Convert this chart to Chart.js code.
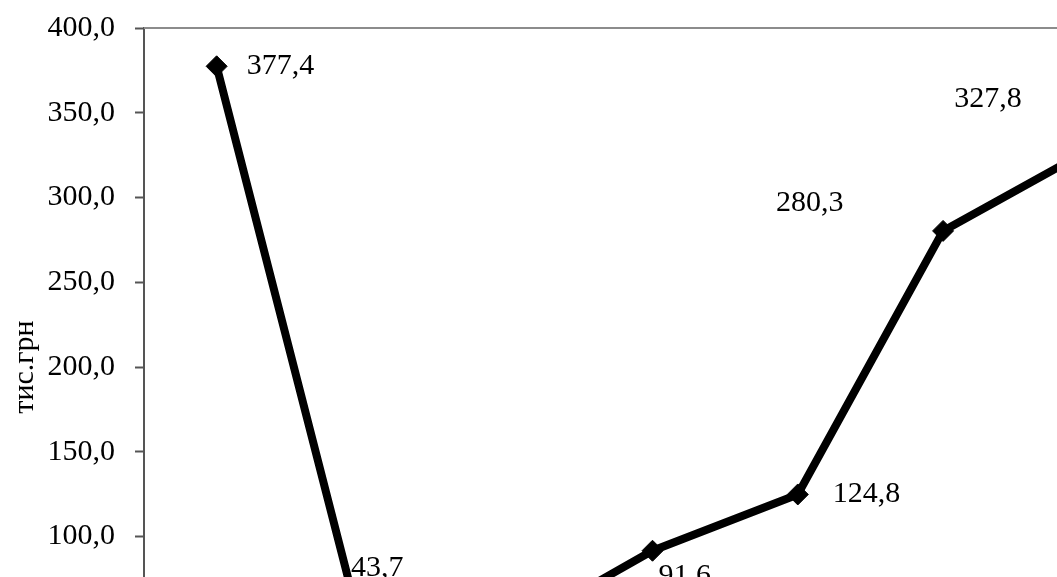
<!DOCTYPE html>
<html>
<head>
<meta charset="utf-8">
<script src="https://cdn.jsdelivr.net/npm/chart.js@4/dist/chart.umd.min.js"></script>
<style>
  html, body { margin: 0; padding: 0; background: #fff; overflow: hidden; width: 1057px; height: 577px; }
  #wrap { position: absolute; left: 0; top: 0; width: 1200px; height: 760px; }
</style>
</head>
<body>
<div id="wrap"><canvas id="c" width="1200" height="760"></canvas></div>
<script>
// Data
const categories = ['2006', '2007', '2008', '2009', '2010', '2011', '2012'];
const values = [377.4, 43.7, 43.0, 91.6, 124.8, 280.3, 327.8];
const yTicks = [0, 50, 100, 150, 200, 250, 300, 350, 400];
const axisTitle = 'тис.грн';

// label placement (left edge offset, vertical centre offset) relative to each point
const labelOffsets = [[30, 0], [-11, -64], [20, 34], [6, 25], [35, 0], [-167, -28], [-134, -51]];

const fmt = v => v.toFixed(1).replace('.', ',');
const FONT = "'Liberation Serif', 'Times New Roman', serif";

const labelsPlugin = {
  id: 'valueLabels',
  afterDatasetsDraw(chart) {
    const ctx = chart.ctx;
    const meta = chart.getDatasetMeta(0);
    ctx.save();
    ctx.font = '30px ' + FONT;
    ctx.fillStyle = '#000';
    ctx.textAlign = 'left';
    ctx.textBaseline = 'middle';
    meta.data.forEach((pt, i) => {
      const o = labelOffsets[i];
      ctx.fillText(fmt(values[i]), pt.x + o[0], pt.y + o[1]);
    });
    ctx.restore();
  }
};

const framePlugin = {
  id: 'plotFrame',
  beforeDatasetsDraw(chart) {
    const a = chart.chartArea;
    const ctx = chart.ctx;
    ctx.save();
    ctx.strokeStyle = '#8c8c8c';
    ctx.lineWidth = 2;
    ctx.beginPath();
    ctx.moveTo(a.left, a.top);
    ctx.lineTo(a.right, a.top);
    ctx.lineTo(a.right, a.bottom);
    ctx.stroke();
    ctx.restore();
  }
};

new Chart(document.getElementById('c'), {
  type: 'line',
  data: {
    labels: categories,
    datasets: [{
      data: values,
      borderColor: '#000',
      backgroundColor: '#000',
      borderWidth: 8,
      tension: 0,
      pointStyle: 'rectRot',
      pointRadius: 10.5,
      pointBorderWidth: 1,
      pointBackgroundColor: '#000',
      pointBorderColor: '#000'
    }]
  },
  options: {
    responsive: false,
    animation: false,
    devicePixelRatio: 1,
    layout: { padding: { left: 0, top: 28, right: 39, bottom: 0 } },
    plugins: { legend: { display: false }, tooltip: { enabled: false } },
    scales: {
      x: {
        type: 'category',
        offset: true,
        afterFit(s) { s.height = 54; s.paddingLeft = 0; s.paddingRight = 0; },
        grid: { display: true, drawOnChartArea: false, offset: true, tickLength: 9, tickColor: '#555' },
        border: { display: true, color: '#555', width: 2 },
        ticks: { font: { size: 30, family: FONT }, color: '#000' }
      },
      y: {
        min: 0,
        max: 400,
        afterFit(s) { s.width = 144; s.paddingTop = 0; s.paddingBottom = 0; },
        afterBuildTicks(s) { s.ticks = yTicks.map(v => ({ value: v })); },
        grid: { display: true, drawOnChartArea: false, tickLength: 9, tickColor: '#555', tickWidth: 2 },
        border: { display: true, color: '#555', width: 2 },
        ticks: {
          font: { size: 30, family: FONT },
          color: '#000',
          padding: 20,
          callback: v => fmt(v)
        },
        title: {
          display: true,
          text: axisTitle,
          color: '#000',
          font: { size: 30, family: FONT },
          padding: { top: 7, bottom: 0 }
        }
      }
    }
  },
  plugins: [framePlugin, labelsPlugin]
});
</script>
</body>
</html>
